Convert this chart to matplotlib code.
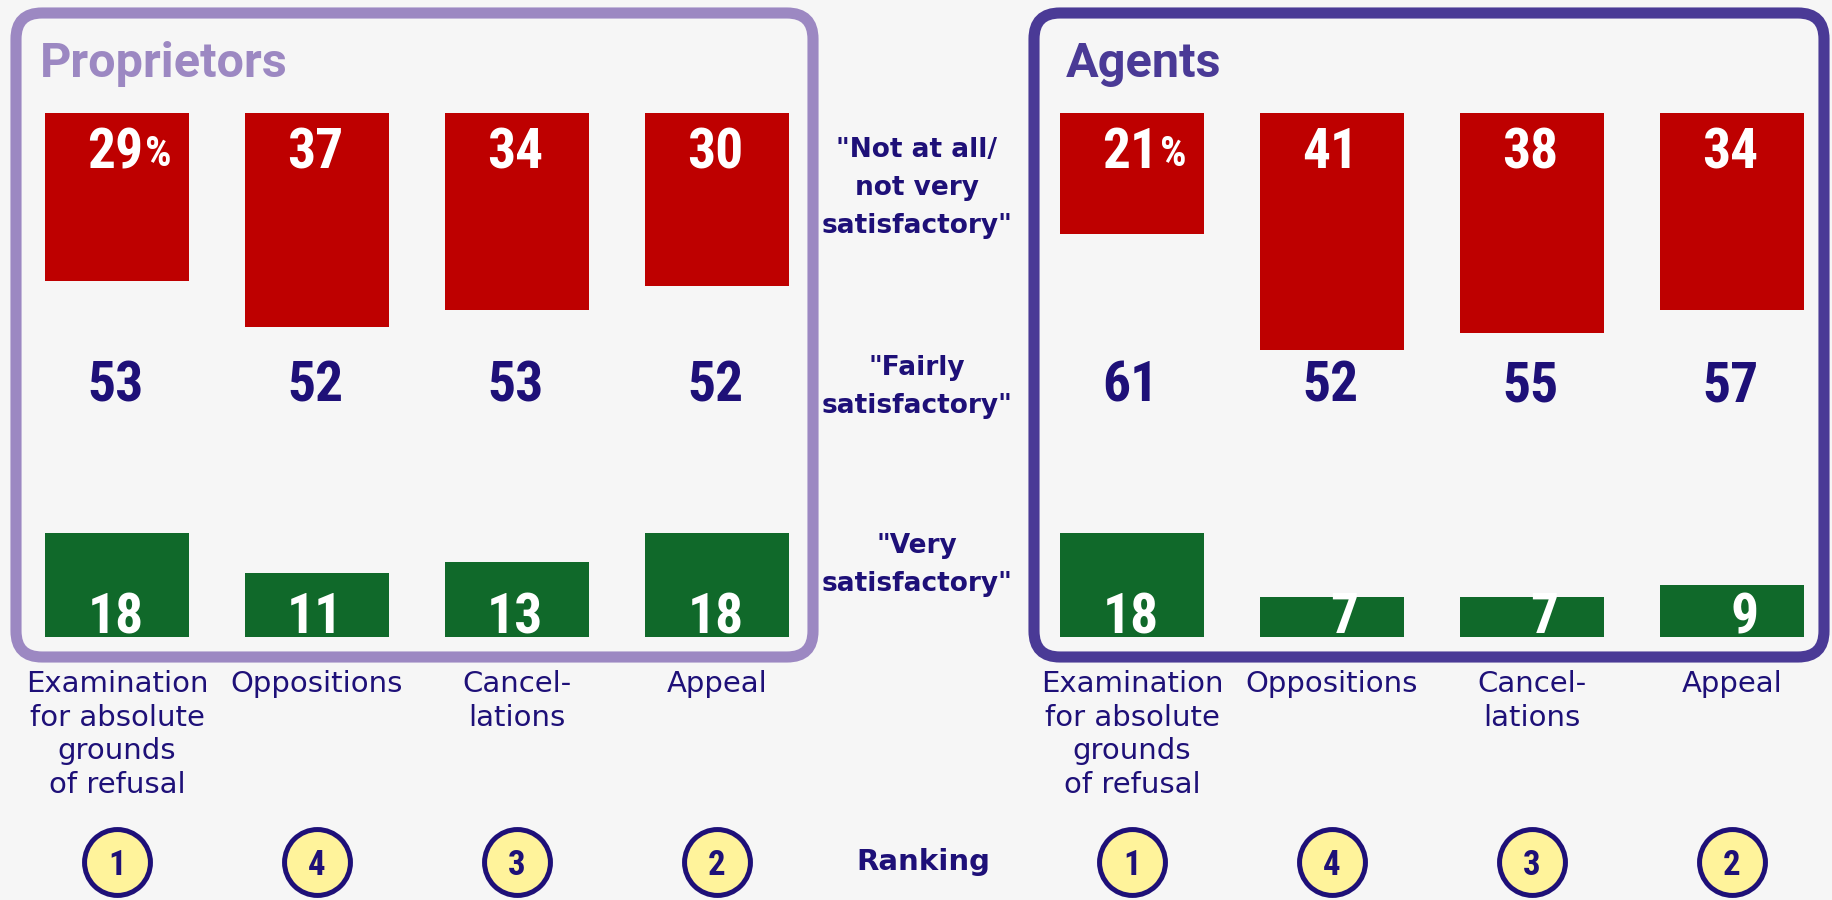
import matplotlib
matplotlib.use("Agg")
import matplotlib.pyplot as plt
from matplotlib.patches import FancyBboxPatch
from matplotlib.transforms import IdentityTransform

# ---------------- data ----------------
categories = ["Examination\nfor absolute\ngrounds\nof refusal", "Oppositions",
              "Cancel-\nlations", "Appeal"]
panel_titles = ["Proprietors", "Agents"]
prop_not_satisfactory = [29, 37, 34, 30]
prop_fairly = [53, 52, 53, 52]
prop_very = [18, 11, 13, 18]
prop_ranking = [1, 4, 3, 2]
agent_not_satisfactory = [21, 41, 38, 34]
agent_fairly = [61, 52, 55, 57]
agent_very = [18, 7, 7, 9]
agent_ranking = [1, 4, 3, 2]
row_labels = ['"Not at all/\nnot very\nsatisfactory"',
              '"Fairly\nsatisfactory"',
              '"Very\nsatisfactory"']
ranking_label = "Ranking"

# ---------------- style ----------------
W, H = 1832, 900
BG = "#F6F6F6"
RED = "#BE0000"
GREEN = "#10692A"
NAVY = "#1E1078"
YELLOW = "#FFF39B"
PANEL_COLORS = ["#9C88C2", "#4A3A96"]
NUMFONT = ["Liberation Sans Narrow", "Roboto Condensed", "Roboto", "DejaVu Sans"]

fig = plt.figure(figsize=(W / 100, H / 100), dpi=100, facecolor=BG)

PXU = 5.78          # pixels per percentage point
AX_TOP, AX_BOT = 113, 637
YMAX = (AX_BOT - AX_TOP) / PXU

panels = [
    dict(title=panel_titles[0], left=17, box=(16, 813), title_x=40,
         red=prop_not_satisfactory, mid=prop_fairly, green=prop_very, rank=prop_ranking),
    dict(title=panel_titles[1], left=1032, box=(1034, 1824), title_x=1066,
         red=agent_not_satisfactory, mid=agent_fairly, green=agent_very, rank=agent_ranking),
]


def num_label(ax, i, y, v, color, size=40):
    return ax.annotate(str(v), xy=(i, y), xytext=(19, 0), textcoords="offset points",
                       ha="right", va="baseline", fontsize=size, fontweight="bold",
                       color=color, family=NUMFONT, annotation_clip=False, zorder=5)


for k, p in enumerate(panels):
    col = PANEL_COLORS[k]
    # rounded frame (pixel coordinates)
    x0, x1 = p["box"]
    y_top, y_bot = 13, 657
    box = FancyBboxPatch((x0, H - y_bot), x1 - x0, y_bot - y_top,
                         boxstyle="round,pad=0,rounding_size=26",
                         transform=IdentityTransform(), facecolor="none",
                         edgecolor=col, linewidth=8, zorder=1)
    fig.patches.append(box)
    fig.text(p["title_x"] / W, 1 - 77 / H, p["title"], ha="left", va="baseline",
             fontsize=35, fontweight="bold", color=col, family=["Roboto", "DejaVu Sans"])

    ax = fig.add_axes([p["left"] / W, (H - AX_BOT) / H, 800 / W, (AX_BOT - AX_TOP) / H])
    ax.set_xlim(-0.5, 3.5)
    ax.set_ylim(0, YMAX)
    ax.axis("off")
    ax.patch.set_alpha(0)
    x = list(range(len(categories)))

    ax.bar(x, p["red"], width=0.72, bottom=[YMAX - v for v in p["red"]], color=RED, zorder=2)
    ax.bar(x, p["green"], width=0.72, color=GREEN, zorder=2)

    for i in x:
        t = num_label(ax, i, (AX_BOT - 168) / PXU, p["red"][i], "white")
        if i == 0:
            ax.annotate("%", xy=(1, 0), xycoords=t, xytext=(1, 3), textcoords="offset points",
                        ha="left", va="bottom", fontsize=30, fontweight="bold", color="white",
                        family=NUMFONT, zorder=5)
        num_label(ax, i, (AX_BOT - 401) / PXU, p["mid"][i], NAVY)
        num_label(ax, i, (AX_BOT - 633) / PXU, p["green"][i], "white")

        ax.text(i, (AX_BOT - 670) / PXU, categories[i], ha="center", va="top",
                fontsize=21, color=NAVY, family="DejaVu Sans", linespacing=1.26,
                clip_on=False)
        ax.text(i, (AX_BOT - 862) / PXU, str(p["rank"][i]), ha="center",
                va="center_baseline", fontsize=25, fontweight="bold", color=NAVY,
                family=NUMFONT, clip_on=False, zorder=6)

    ax.scatter(x, [(AX_BOT - 862) / PXU] * len(x), s=2250, facecolor=YELLOW,
               edgecolor=NAVY, linewidth=3.6, clip_on=False, zorder=4)

# centre row labels
for lbl, yc in zip(row_labels, [188, 387, 565]):
    fig.text(917 / W, 1 - yc / H, lbl, ha="center", va="center", fontsize=19,
             fontweight="bold", color=NAVY, family="DejaVu Sans", linespacing=1.62)
fig.text(923 / W, 1 - 862 / H, ranking_label, ha="center", va="center", fontsize=21,
         fontweight="bold", color=NAVY, family="DejaVu Sans")

fig.savefig("out.png", dpi=100, facecolor=BG)
